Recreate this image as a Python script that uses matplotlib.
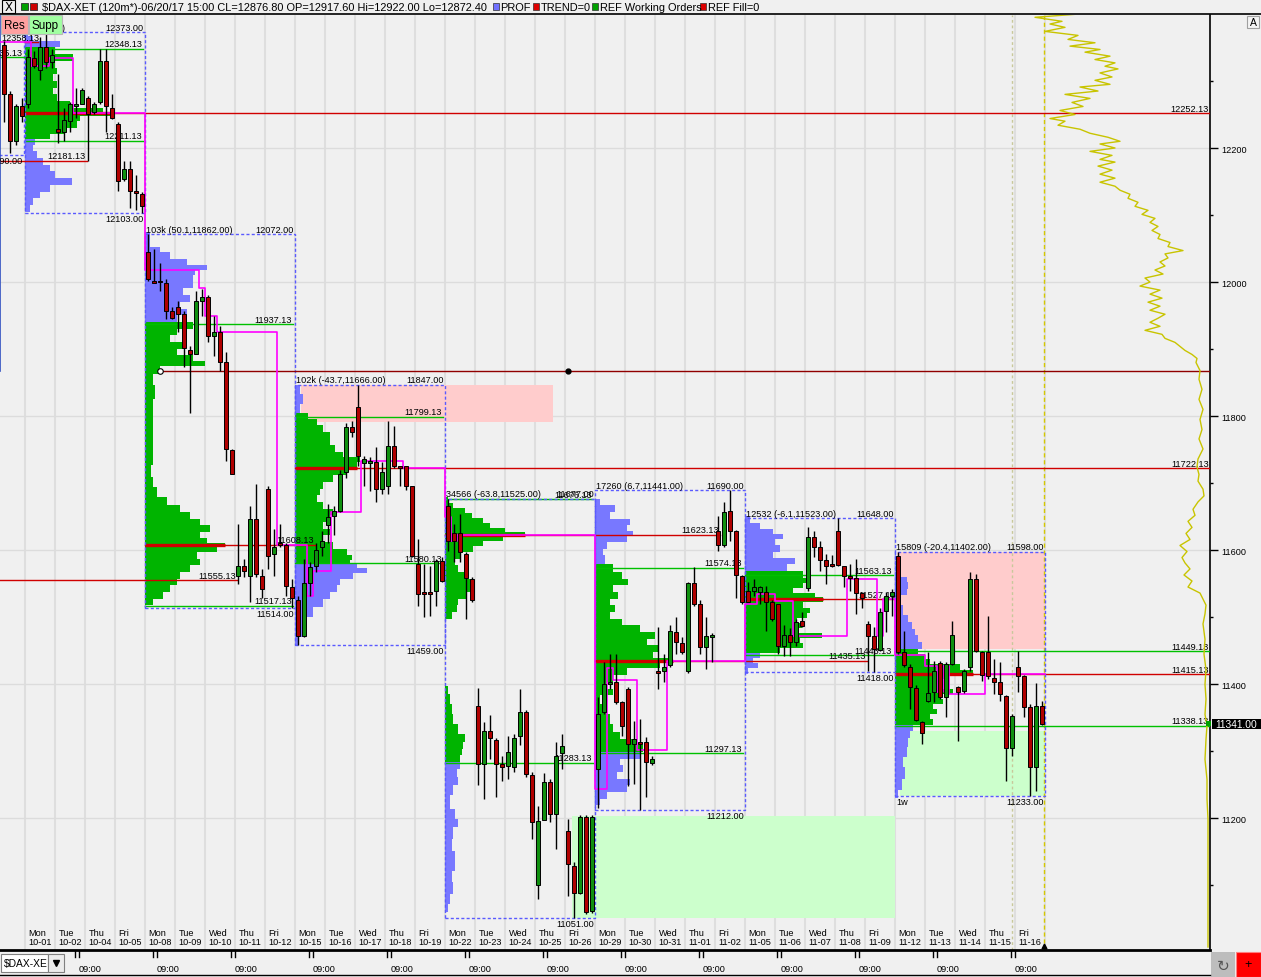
import numpy as np
import matplotlib
matplotlib.use("Agg")
import matplotlib.pyplot as plt
from matplotlib.patches import Rectangle
import matplotlib.transforms as mtrans

plt.rcParams['font.family'] = ['Liberation Sans', 'DejaVu Sans']

# ---------------- 120-minute bars (index -4 .. 169) ----------------
bar_open = [12353, 12281, 12211, 12263,
    12266, 12335, 12317, 12351, 12329, 12229, 12224, 12241, 12263, 12266, 12275, 12253, 12269, 12330, 12260, 12236, 12154, 12169, 12136, 12132,
    12045, 12002, 12001, 11998, 11957, 11963, 11953, 11899, 11893, 11972, 11977, 11919, 11926, 11880, 11750, 11562, 11577, 11562, 11647, 11562, 11692, 11595, 11610, 11607, 11545,
    11525, 11472, 11551, 11577, 11604, 11638, 11651, 11659, 11717, 11784, 11813, 11730, 11730, 11732, 11692, 11696, 11756, 11725, 11725, 11695, 11580, 11538, 11538, 11539, 11584,
    11666, 11625, 11626, 11595, 11557, 11368, 11281, 11330, 11317, 11281, 11278, 11277, 11323, 11359, 11265, 11101, 11198, 11254, 11207, 11298, 11181, 11129, 11089, 11202, 11062,
    11274, 11359, 11401, 11404, 11374, 11393, 11311, 11314, 11314, 11283, 11419, 11419, 11428, 11478, 11462, 11420, 11551, 11520, 11456, 11471, 11628, 11607, 11659, 11629, 11562,
    11539, 11539, 11538, 11538, 11523, 11519, 11457, 11474, 11463, 11495, 11544, 11619, 11604, 11586, 11580, 11629, 11577, 11562, 11559, 11536, 11490, 11472, 11451, 11510, 11532,
    11592, 11448, 11426, 11395, 11344, 11375, 11389, 11432, 11381, 11430, 11396, 11390, 11425, 11557, 11448, 11448, 11410, 11404, 11383, 11305, 11426, 11413, 11366, 11277, 11368]
bar_high = [12359, 12285, 12265, 12274,
    12348, 12344, 12366, 12373, 12348, 12311, 12259, 12269, 12289, 12290, 12277, 12269, 12348, 12348, 12281, 12239, 12181, 12181, 12159, 12135,
    12072, 12050, 12028, 12005, 11963, 11972, 11957, 11904, 11986, 11990, 11980, 11950, 11935, 11896, 11751, 11639, 11587, 11666, 11699, 11572, 11696, 11632, 11639, 11610, 11557,
    11532, 11587, 11583, 11610, 11628, 11669, 11666, 11719, 11789, 11792, 11847, 11741, 11739, 11754, 11732, 11792, 11786, 11726, 11726, 11696, 11617, 11580, 11577, 11587, 11590,
    11677, 11639, 11654, 11598, 11560, 11395, 11344, 11354, 11320, 11293, 11323, 11326, 11393, 11361, 11269, 11219, 11268, 11259, 11314, 11326, 11199, 11135, 11205, 11205, 11205,
    11381, 11433, 11445, 11445, 11375, 11396, 11345, 11348, 11322, 11293, 11486, 11445, 11489, 11501, 11471, 11553, 11575, 11525, 11501, 11477, 11651, 11672, 11690, 11630, 11563,
    11553, 11557, 11547, 11547, 11525, 11520, 11489, 11484, 11498, 11508, 11635, 11628, 11613, 11595, 11593, 11648, 11577, 11580, 11587, 11538, 11495, 11486, 11513, 11538, 11542,
    11598, 11480, 11430, 11399, 11345, 11448, 11435, 11435, 11433, 11495, 11398, 11423, 11568, 11565, 11450, 11502, 11438, 11433, 11384, 11356, 11450, 11414, 11371, 11402, 11375]
bar_low = [12239, 12192, 12205, 12239,
    12259, 12319, 12301, 12319, 12319, 12207, 12210, 12224, 12245, 12265, 12180, 12251, 12266, 12224, 12244, 12136, 12151, 12110, 12107, 12103,
    12002, 11999, 11987, 11945, 11945, 11926, 11874, 11804, 11893, 11950, 11911, 11890, 11868, 11733, 11714, 11550, 11560, 11523, 11560, 11528, 11572, 11562, 11605, 11532, 11514,
    11459, 11471, 11532, 11568, 11592, 11610, 11622, 11657, 11707, 11769, 11726, 11695, 11689, 11672, 11684, 11684, 11722, 11695, 11690, 11590, 11517, 11501, 11502, 11517, 11553,
    11599, 11583, 11583, 11498, 11523, 11250, 11229, 11289, 11232, 11256, 11259, 11269, 11310, 11262, 11169, 11080, 11198, 11195, 11154, 11274, 11084, 11051, 11087, 11057, 11059,
    11216, 11356, 11393, 11371, 11323, 11248, 11251, 11212, 11232, 11280, 11393, 11404, 11426, 11445, 11445, 11417, 11516, 11445, 11423, 11433, 11599, 11605, 11614, 11528, 11520,
    11522, 11532, 11520, 11480, 11495, 11445, 11442, 11442, 11457, 11486, 11539, 11590, 11569, 11550, 11575, 11577, 11545, 11539, 11505, 11513, 11420, 11418, 11450, 11478, 11502,
    11445, 11426, 11363, 11345, 11311, 11374, 11374, 11378, 11351, 11428, 11316, 11387, 11420, 11448, 11405, 11408, 11386, 11375, 11256, 11293, 11389, 11351, 11233, 11241, 11339]
bar_close = [12281, 12211, 12263, 12248,
    12336, 12323, 12351, 12329, 12339, 12224, 12242, 12265, 12266, 12287, 12251, 12266, 12330, 12262, 12245, 12151, 12169, 12136, 12133, 12114,
    12004, 11999, 12000, 11957, 11947, 11953, 11901, 11893, 11972, 11978, 11919, 11925, 11881, 11751, 11714, 11577, 11569, 11647, 11565, 11542, 11592, 11605, 11607, 11547, 11528,
    11472, 11551, 11575, 11601, 11614, 11650, 11659, 11714, 11784, 11777, 11741, 11736, 11733, 11692, 11716, 11756, 11726, 11722, 11696, 11592, 11535, 11535, 11535, 11584, 11554,
    11613, 11613, 11598, 11559, 11525, 11281, 11330, 11320, 11281, 11277, 11299, 11320, 11359, 11266, 11195, 11196, 11254, 11207, 11293, 11308, 11132, 11089, 11202, 11060, 11202,
    11356, 11401, 11404, 11374, 11338, 11311, 11319, 11311, 11284, 11289, 11417, 11425, 11480, 11463, 11448, 11551, 11520, 11456, 11472, 11473, 11607, 11657, 11629, 11563, 11523,
    11523, 11545, 11545, 11523, 11498, 11457, 11474, 11463, 11493, 11487, 11619, 11605, 11586, 11577, 11577, 11578, 11562, 11559, 11536, 11528, 11472, 11453, 11508, 11532, 11538,
    11448, 11428, 11396, 11347, 11327, 11387, 11419, 11381, 11430, 11474, 11389, 11420, 11557, 11450, 11414, 11413, 11404, 11386, 11305, 11353, 11413, 11366, 11277, 11368, 11341]
FIRST_BAR = -4

# ---------------- weekly profiles ----------------
wk_start = [0, 20, 45, 70, 95, 120, 145]
wk_end = [20, 45, 70, 95, 120, 145, 170]
wk_high = [12373.00, 12072.00, 11847.00, 11677.00, 11690.00, 11648.00, 11598.00]
wk_low = [12103.00, 11514.00, 11459.00, 11051.00, 11212.00, 11418.00, 11233.00]
wk_tag = ['41k (-9.0)', '103k (50.1,11862.00)', '102k (-43.7,11666.00)', '34566 (-63.8,11525.00)',
          '17260 (6.7,11441.00)', '12532 (-6.1,11523.00)', '15809 (-20.4,11402.00)']
wk_vah = [12348.13, 11937.13, 11799.13, 11676.13, 11574.13, 11563.13, 11449.13]
wk_val = [12211.13, 11517.13, 11580.13, 11283.13, 11297.13, 11443.13, 11338.13]
wk_poc = [12252.13, 11608.13, 11722.13, 11623.13, 11435.13, 11527.13, 11415.13]
poc_until = [197.5, 48.3, 197.5, 115.8, 140.3, 145.3, 197.5]

prof_price = [
    [12370, 12365, 12355, 12345, 12335, 12325, 12315, 12305, 12295, 12285, 12275, 12265, 12255, 12250, 12245, 12235, 12225, 12217, 12210, 12200, 12190, 12180, 12170, 12160, 12150, 12140, 12130, 12120, 12110],
    [12069, 12054, 12050, 12039, 12030, 12020, 12016, 12005, 11995, 11986, 11975, 11965, 11956, 11945, 11935, 11926, 11916, 11905, 11896, 11886, 11878, 11871, 11856, 11836, 11816, 11796, 11777, 11756, 11736, 11717, 11702, 11687, 11672, 11662, 11651, 11642, 11632, 11622, 11613, 11608, 11602, 11592, 11583, 11572, 11562, 11553, 11542, 11532, 11523],
    [11841, 11826, 11811, 11799, 11792, 11781, 11771, 11762, 11751, 11741, 11736, 11726, 11717, 11707, 11696, 11687, 11677, 11666, 11657, 11647, 11636, 11628, 11617, 11607, 11598, 11587, 11583, 11577, 11569, 11562, 11553, 11542, 11532, 11523, 11508, 11493, 11478, 11463],
    [11674, 11666, 11659, 11651, 11644, 11636, 11629, 11625, 11617, 11610, 11602, 11592, 11583, 11572, 11562, 11553, 11542, 11532, 11523, 11513, 11502, 11393, 11378, 11363, 11348, 11333, 11319, 11308, 11299, 11289, 11278, 11269, 11254, 11244, 11225, 11204, 11195, 11180, 11159, 11144, 11129, 11114, 11095, 11080, 11065],
    [11672, 11662, 11651, 11642, 11632, 11625, 11617, 11607, 11598, 11587, 11572, 11562, 11553, 11542, 11532, 11523, 11513, 11502, 11493, 11483, 11472, 11463, 11453, 11442, 11435, 11428, 11419, 11408, 11398, 11389, 11378, 11363, 11348, 11333, 11323, 11314, 11304, 11293, 11284, 11274, 11263, 11254, 11244, 11233, 11225],
    [11646, 11636, 11628, 11620, 11613, 11602, 11592, 11584, 11575, 11562, 11554, 11547, 11539, 11532, 11527, 11517, 11510, 11502, 11495, 11487, 11480, 11472, 11465, 11457, 11450, 11442, 11435, 11428, 11420],
    [11562, 11557, 11547, 11538, 11528, 11508, 11498, 11487, 11478, 11468, 11457, 11448, 11442, 11433, 11426, 11415, 11411, 11404, 11396, 11389, 11381, 11374, 11366, 11359, 11351, 11344, 11333, 11326, 11314, 11299, 11284, 11269, 11248, 11236],
]
prof_vol = [
    [3, 8, 35, 30, 48, 30, 32, 28, 32, 28, 32, 45, 78, 85, 55, 52, 40, 25, 10, 8, 12, 18, 25, 30, 47, 25, 15, 8, 5],
    [5, 5, 15, 25, 42, 62, 50, 48, 48, 38, 45, 35, 42, 32, 48, 32, 25, 38, 32, 48, 60, 15, 8, 10, 8, 8, 8, 8, 8, 6, 8, 12, 22, 35, 45, 55, 65, 55, 62, 80, 72, 52, 55, 45, 35, 32, 25, 18, 8],
    [5, 8, 5, 13, 22, 28, 35, 35, 40, 48, 65, 62, 52, 38, 28, 25, 22, 28, 38, 35, 28, 35, 28, 38, 52, 57, 55, 62, 72, 58, 45, 42, 35, 28, 18, 12, 8, 3],
    [3, 8, 20, 27, 38, 45, 60, 80, 58, 38, 28, 15, 10, 13, 22, 27, 28, 22, 13, 12, 7, 3, 5, 7, 8, 13, 20, 18, 17, 15, 15, 12, 13, 8, 5, 10, 13, 8, 7, 10, 10, 7, 8, 5, 3],
    [5, 20, 15, 35, 32, 38, 32, 12, 8, 10, 18, 27, 33, 18, 23, 15, 20, 15, 27, 45, 60, 52, 63, 58, 78, 65, 32, 18, 12, 18, 5, 12, 15, 18, 25, 42, 48, 45, 25, 28, 22, 35, 32, 12, 5],
    [5, 15, 28, 38, 30, 35, 28, 50, 42, 58, 65, 58, 48, 70, 78, 58, 65, 62, 52, 57, 50, 77, 55, 58, 35, 15, 8, 13, 3],
    [5, 12, 13, 12, 5, 8, 13, 17, 20, 23, 27, 23, 30, 35, 65, 78, 52, 45, 45, 58, 45, 48, 38, 42, 35, 38, 18, 15, 13, 12, 8, 10, 7, 3],
]

# developing POC (bar index where a new value starts)
dpoc_bar = [-5, 1, 4, 8, 20, 29, 30, 32, 42, 47, 48, 51, 56, 63, 70, 71, 72, 95, 97, 98, 102, 107,
            120, 122, 125, 128, 137, 142, 143, 145, 150, 152, 153, 154, 160, 170]
dpoc_val = [12358.13, 12322, 12334, 12252.13, 12018, 11991, 11949, 11925, 11608.13, 11532, 11569, 11657,
            11733, 11722.13, 11650, 11614, 11623.13, 11244, 11424, 11406, 11302, 11435.13,
            11520, 11535, 11524, 11472, 11557, 11472, 11527.13, 11444, 11427, 11388, 11427, 11385, 11415.13, 11415.13]

# zones (start bar, end bar, low, high)
zone_t0 = [46.0, 145.3, 145.8, 91.2]
zone_t1 = [88.0, 170.0, 170.0, 145.0]
zone_lo = [11791, 11452, 11233, 11051]
zone_hi = [11847, 11598, 11330, 11204]
zone_kind = ['res', 'res', 'supp', 'supp']

# composite profile on the right (price, length)
yel_price = [12400, 12395, 12389, 12385, 12380, 12374, 12368, 12362, 12357, 12352, 12347, 12343, 12337, 12332, 12327, 12322, 12318, 12312, 12306, 12301,
             12295, 12291, 12285, 12280, 12274, 12268, 12262, 12256, 12250, 12244, 12240, 12234, 12228, 12222, 12216, 12210, 12206, 12200, 12195, 12189,
             12183, 12179, 12173, 12167, 12161, 12155, 12149, 12143, 12137, 12131, 12125, 12119, 12113, 12107, 12101, 12095, 12089, 12083, 12077, 12071,
             12065, 12059, 12053, 12047, 12042, 12036, 12030, 12024, 12018, 12012, 12006, 12000, 11994, 11988, 11982, 11976, 11970, 11964, 11958, 11952,
             11946, 11940, 11934, 11928, 11922, 11916, 11910, 11904, 11898, 11892, 11886, 11880, 11874, 11868, 11855, 11840, 11825, 11810, 11795, 11780,
             11766, 11751, 11736, 11724, 11713, 11703, 11691, 11681, 11672, 11661, 11652, 11643, 11634, 11625, 11616, 11607, 11598, 11589, 11581, 11572,
             11563, 11554, 11545, 11536, 11527, 11518, 11505, 11490, 11467, 11445, 11422, 11400, 11378, 11355, 11338, 11318, 11288, 11258, 11229, 11199, 11008]
yel_len = [128, 173, 146, 158, 143, 163, 130, 140, 113, 138, 108, 123, 98, 113, 93, 103, 90, 108, 96, 113,
           98, 128, 110, 143, 118, 136, 125, 148, 133, 158, 143, 150, 128, 118, 100, 88, 108, 93, 118, 96,
           108, 93, 110, 96, 108, 93, 108, 93, 88, 78, 80, 70, 73, 60, 66, 53, 58, 50, 56, 48,
           50, 38, 40, 25, 43, 40, 48, 43, 53, 45, 63, 58, 68, 48, 58, 46, 60, 48, 58, 43,
           50, 58, 48, 63, 46, 43, 33, 28, 23, 16, 11, 12, 10, 8, 9, 6, 9, 5, 8, 6,
           9, 5, 10, 11, 9, 10, 5, 4, 10, 15, 13, 20, 16, 22, 18, 28, 21, 26, 23, 18,
           24, 16, 20, 8, 5, 2, 3, 5, 3, 4, 2, 3, 2, 3, 1, 2, 3, 1, 1, 0, 0]

day_name = ['Mon', 'Tue', 'Thu', 'Fri',
            'Mon', 'Tue', 'Wed', 'Thu', 'Fri', 'Mon', 'Tue', 'Wed', 'Thu', 'Fri',
            'Mon', 'Tue', 'Wed', 'Thu', 'Fri', 'Mon', 'Tue', 'Wed', 'Thu', 'Fri',
            'Mon', 'Tue', 'Wed', 'Thu', 'Fri', 'Mon', 'Tue', 'Wed', 'Thu', 'Fri']
day_date = ['10-01', '10-02', '10-04', '10-05', '10-08', '10-09', '10-10', '10-11', '10-12',
            '10-15', '10-16', '10-17', '10-18', '10-19', '10-22', '10-23', '10-24', '10-25', '10-26',
            '10-29', '10-30', '10-31', '11-01', '11-02', '11-05', '11-06', '11-07', '11-08', '11-09',
            '11-12', '11-13', '11-14', '11-15', '11-16']
last_price = 11341.00
y_ticks = [11200, 11400, 11600, 11800, 12000, 12200]
y_minor = [11100, 11300, 11500, 11700, 11900, 12100, 12300]

# ---------------- layout ----------------
W, H = 1261, 978
fig = plt.figure(figsize=(W / 100, H / 100), dpi=100)
fig.patch.set_facecolor('#f0f0f0')
AX_R, AX_T, AX_B = 1210, 16, 951
ax = fig.add_axes([0, (H - AX_B) / H, AX_R / W, (AX_B - AX_T) / H])
ax.set_facecolor('#f0f0f0')


def sx(px):
    return (px - 25) / 6.0


X0, X1 = sx(0), sx(AX_R)
ax.set_xlim(X0, X1)
ax.set_ylim(12422.3 - 1.4919 * AX_B, 12422.3 - 1.4919 * AX_T)

FS = 6.6
TXT = '#000000'
BLUE = '#7878ff'
GREEN = '#00b400'
REDL = '#d00000'
MAG = '#ff00ff'
VAG = '#00c000'
BOXC = '#5a5aff'


def lab(x, y, s, ha='right', below=False, z=5):
    if below:
        ax.annotate(s, (x, y), xytext=(0, -0.6), textcoords='offset points', ha=ha, va='top',
                    fontsize=FS, color=TXT, zorder=z, annotation_clip=False)
    else:
        ax.annotate(s, (x, y), xytext=(0, 0.2), textcoords='offset points', ha=ha, va='bottom',
                    fontsize=FS, color=TXT, zorder=z, annotation_clip=False)


# grid
for k in range(0, 35):
    ax.axvline(5 * k, color='#dedede', lw=1.5, zorder=0)
for t in y_ticks:
    ax.axhline(t, color='#dcdcdc', lw=1, zorder=0)

# zones
for t0, t1, lo, hi, kd in zip(zone_t0, zone_t1, zone_lo, zone_hi, zone_kind):
    ax.add_patch(Rectangle((t0, lo), t1 - t0, hi - lo, fc='#ffcccc' if kd == 'res' else '#ccffcc',
                           ec='none', zorder=1))

# profiles
for w in range(7):
    p = np.array(prof_price[w], float)
    v = np.array(prof_vol[w], float)
    o = np.argsort(p)
    p, v = p[o], v[o]
    n = len(p)
    lo = np.empty(n)
    hi = np.empty(n)
    for i in range(n):
        gb = p[i] - p[i - 1] if i > 0 else 10
        ga = p[i + 1] - p[i] if i < n - 1 else 10
        lo[i] = p[i] - (gb / 2 if gb <= 25 else 5)
        hi[i] = p[i] + (ga / 2 if ga <= 25 else 5)
    cols = [GREEN if wk_val[w] <= q <= wk_vah[w] else BLUE for q in p]
    ax.barh(lo, v / 6.0, height=hi - lo, left=wk_start[w], align='edge', color=cols,
            linewidth=0, antialiased=False, zorder=3)
    # POC
    pv = v[np.argmin(np.abs(p - wk_poc[w]))]
    ax.plot([wk_start[w], poc_until[w]], [wk_poc[w]] * 2, color=REDL, lw=1, zorder=4)
    ax.plot([wk_start[w], wk_start[w] + pv / 6.0], [wk_poc[w]] * 2, color=REDL, lw=2.4, zorder=4,
            solid_capstyle='butt')
    # value area lines
    va_end = X1 if w == 6 else wk_end[w] - 0.3
    for lvl in (wk_vah[w], wk_val[w]):
        ax.plot([wk_start[w], va_end], [lvl, lvl], color=VAG, lw=1, zorder=4)
        lab(va_end - 0.2, lvl, '%.2f' % lvl)
    lab(poc_until[w] - 0.2, wk_poc[w], '%.2f' % wk_poc[w])
    # dashed range box
    ax.add_patch(Rectangle((wk_start[w], wk_low[w]), wk_end[w] - wk_start[w], wk_high[w] - wk_low[w],
                           fill=False, ec=BOXC, lw=1, ls=(0, (2.2, 1.6)), zorder=4))
    lab(wk_start[w] + 0.15, wk_high[w], wk_tag[w], ha='left')
    lab(wk_end[w] - 0.2, wk_high[w], '%.2f' % wk_high[w])
    lab(wk_end[w] - 0.2, wk_low[w], '%.2f' % wk_low[w], below=True)
lab(wk_start[6] + 0.15, wk_low[6], '1w', ha='left', below=True)

# developing POC
ax.plot(dpoc_bar, dpoc_val, drawstyle='steps-post', color=MAG, lw=1.2, zorder=5)

# prior-week references
ax.add_patch(Rectangle((X0 - 1, 12190.0), -0.15 - (X0 - 1), 300, fill=False, ec=BOXC, lw=1,
                       ls=(0, (2.2, 1.6)), zorder=4))
lab(-0.4, 12190.0, '12190.00', below=True)
ax.plot([X0, 0], [12335.13] * 2, color=VAG, lw=1, zorder=4)
lab(-0.5, 12335.13, '12335.13')
lab(X0 + 0.2, 12358.13, '12358.13', ha='left')
ax.plot([0, sx(38)], [12358.13] * 2, color=REDL, lw=1, zorder=4)
for lvl, end in ((12181.13, sx(87)), (11555.13, sx(237))):
    ax.plot([X0, end], [lvl, lvl], color=REDL, lw=1, zorder=4)
    lab(end - 0.2, lvl, '%.2f' % lvl)
ax.plot([sx(160), X1], [11868.0] * 2, color='#900000', lw=1, zorder=4)
ax.plot([sx(160)], [11868.0], marker='o', ms=4, mfc='white', mec='black', mew=0.8, zorder=6)
ax.plot([sx(568)], [11868.0], marker='o', ms=3.5, color='black', zorder=6)
ax.plot([X0 + 0.05] * 2, [11868.0, 12400], color='#3050c0', lw=1.2, zorder=4)

# candles
idx = np.arange(FIRST_BAR, FIRST_BAR + len(bar_open))
xc = idx + 0.5
o = np.array(bar_open, float)
c = np.array(bar_close, float)
hh = np.array(bar_high, float)
ll = np.array(bar_low, float)
ax.vlines(xc, ll, hh, color='black', lw=1, zorder=6)
bcol = np.where(c >= o, '#109010', '#b00000')
ax.bar(xc, np.maximum(np.abs(c - o), 1.6), bottom=np.minimum(o, c), width=0.68, color=bcol,
       edgecolor='black', linewidth=0.7, zorder=7)

# composite profile (yellow)
n = min(len(yel_price), len(yel_len))
ax.plot(sx(1208) - np.array(yel_len[:n], float) / 6.0, yel_price[:n],
        color='#c8c400', lw=1.0, zorder=5)

# vertical markers
ax.axvline(sx(1012), color='#c8c89a', lw=1, ls=(0, (2, 2)), zorder=2)
ax.axvline(sx(1044), color='#d4c800', lw=1, ls=(0, (3, 2)), zorder=2)

# day labels
btr = mtrans.blended_transform_factory(ax.transData, ax.transAxes)
for k, (dn, dd) in enumerate(zip(day_name, day_date)):
    ax.text(5 * k + 0.6, (AX_B - 929) / (AX_B - AX_T), dn + '\n' + dd, transform=btr, ha='left', va='top',
            fontsize=FS, color=TXT, linespacing=1.05, zorder=5)

# axes styling
for s in ('left', 'top'):
    ax.spines[s].set_visible(False)
ax.spines['right'].set_linewidth(1.2)
ax.spines['bottom'].set_linewidth(2)
ax.set_xticks([])
ax.yaxis.tick_right()
ax.set_yticks(y_ticks)
ax.set_yticklabels([str(t) for t in y_ticks])
ax.set_yticks(y_minor, minor=True)
ax.tick_params(axis='y', which='major', length=5.8, width=1, pad=2.6, labelsize=FS, colors='black')
ax.tick_params(axis='y', which='minor', length=2.5, width=1)

# ---------------- UI chrome overlay (pixel coordinates) ----------------
ui = fig.add_axes([0, 0, 1, 1], zorder=10)
ui.set_xlim(0, W)
ui.set_ylim(H, 0)
ui.axis('off')
ui.patch.set_alpha(0)

ui.add_patch(Rectangle((0, 0), W, 15, fc='#f0f0f0', ec='none'))
ui.plot([0, W], [14.6, 14.6], color='black', lw=1.2)
ui.add_patch(Rectangle((2, 1), 13, 12.5, fc='#f0f0f0', ec='black', lw=0.8))
ui.text(8.5, 7.6, 'X', ha='center', va='center', fontsize=8.5, family='DejaVu Sans')
ui.add_patch(Rectangle((21, 4), 7, 7, fc='#00a000', ec='#303030', lw=0.6))
ui.add_patch(Rectangle((30, 4), 7, 7, fc='#cc0000', ec='#303030', lw=0.6))
ui.text(42, 8, '$DAX-XET (120m*)-06/20/17 15:00 CL=12876.80 OP=12917.60 Hi=12922.00 Lo=12872.40',
        ha='left', va='center', fontsize=7.9)
for xs, colr, txt in ((493, '#7070ff', 'PROF'), (533, '#dd0000', 'TREND=0'),
                      (592, '#00a000', 'REF Working Orders'), (700, '#dd0000', 'REF Fill=0')):
    ui.add_patch(Rectangle((xs, 4), 6, 7, fc=colr, ec='#303030', lw=0.5))
    ui.text(xs + 7.5, 8, txt, ha='left', va='center', fontsize=7.9)

ui.add_patch(Rectangle((1, 16), 27, 19, fc='#ffa0a0', ec='#b8b8b8', lw=0.8))
ui.text(14.5, 25.8, 'Res', ha='center', va='center', fontsize=8.4)
ui.add_patch(Rectangle((29, 16), 33, 19, fc='#a0ffa0', ec='#b8b8b8', lw=0.8))
ui.text(45.5, 25.8, 'Supp', ha='center', va='center', fontsize=8.4)

ui.add_patch(Rectangle((1247, 16.5), 12, 12.5, fc='#f4f4f4', ec='#a0a0a0', lw=0.8))
ui.text(1253, 23, 'A', ha='center', va='center', fontsize=7.5)

# bottom time strip
ui.plot([0, AX_R], [976, 976], color='black', lw=1)
for k in range(13):
    xl = 79 + 78 * k
    ui.plot([xl - 4.5, xl - 4.5], [952, 958], color='black', lw=1)
    ui.plot([xl, xl], [952, 958], color='black', lw=1)
    ui.text(xl, 969.5, '09:00', ha='left', va='center', fontsize=FS)
ui.plot([1044], [947], marker='^', ms=3.5, color='black')
ui.add_patch(Rectangle((1, 955), 47, 18, fc='white', ec='#808080', lw=0.8))
ui.text(4, 964, '$DAX-XE', ha='left', va='center', fontsize=7.4)
ui.add_patch(Rectangle((48, 955), 16, 18, fc='#ececec', ec='#808080', lw=0.8))
ui.plot([56], [964], marker='v', ms=4, color='black')
ui.add_patch(Rectangle((1211, 953), 24, 25, fc='#bdbdbd', ec='none'))
ui.text(1223, 966, '\u21bb', ha='center', va='center', fontsize=11, color='#555555', family='DejaVu Sans')
ui.add_patch(Rectangle((1236, 953), 25, 25, fc='#ff0000', ec='#ff8080', lw=0.8))
ui.text(1248.5, 965, '+', ha='center', va='center', fontsize=9, color='black')

# last price tag (x in px, y in price)
ptr = mtrans.blended_transform_factory(ui.transData, ax.transData)
ui.add_patch(Rectangle((1212, last_price - 7.5), 49, 15, transform=ptr, fc='black', ec='none'))
ui.add_patch(Rectangle((1206, last_price - 3.5), 5, 7, transform=ptr, fc='#00a000', ec='none'))
ui.text(1236.5, last_price, '%.2f' % last_price, transform=ptr, ha='center', va='center',
        fontsize=7.4, color='white')

fig.savefig('out.png', dpi=100)
